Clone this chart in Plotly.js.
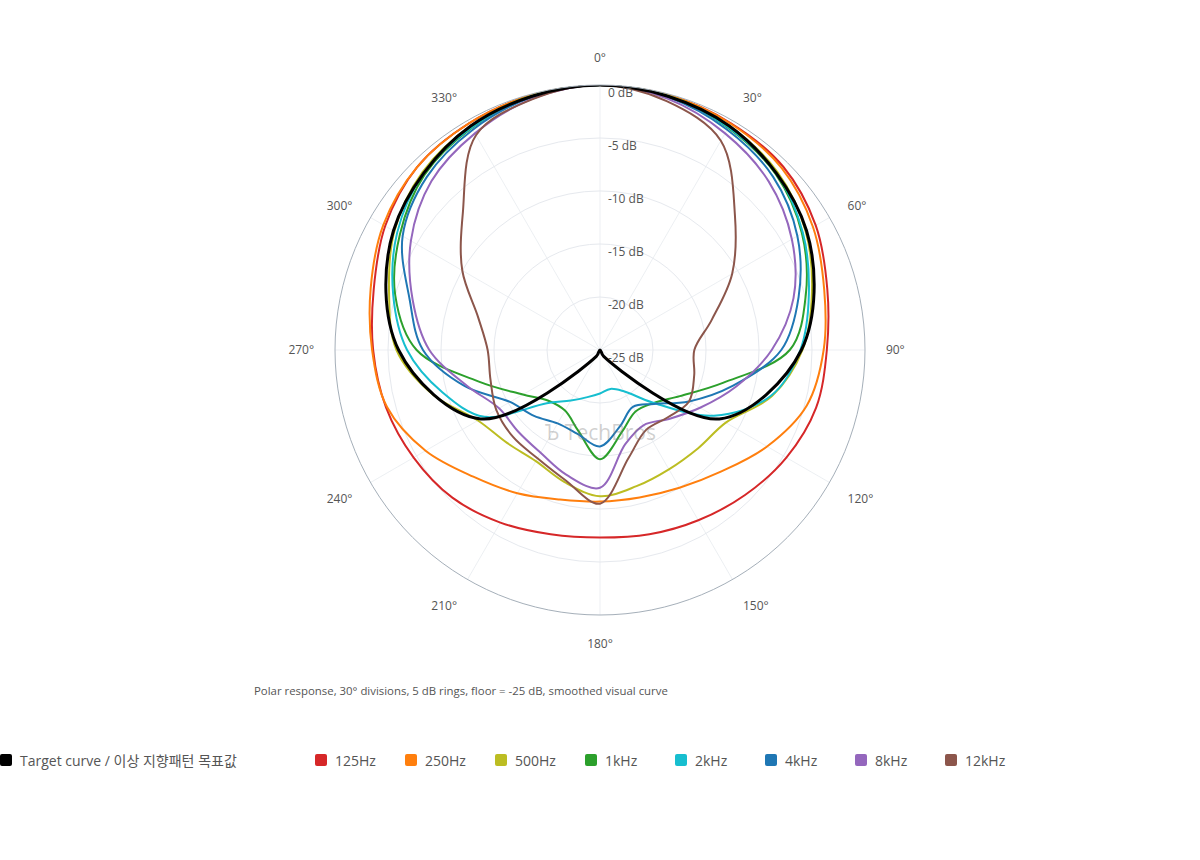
<!DOCTYPE html>
<html>
<head>
<meta charset="utf-8">
<script src="https://cdn.plot.ly/plotly-3.0.1.min.js"></script>
<style>
    body { margin: 0; background: #fff; font-family: "Open Sans", "Noto Sans CJK KR", sans-serif; }
    #chart { width: 1200px; height: 860px; }
    #legend { position: absolute; left: 0; top: 750px; display: flex; align-items: center; font-size: 14px; color: #555; }
    .item { display: flex; align-items: center; width: 90px; white-space: nowrap; }
    .item:first-child { width: 315px; }
    .swatch { width: 12px; height: 12px; border-radius: 2px; margin-right: 8px; flex: none; }
</style>
</head>
<body>
<div id="chart"></div>
<div id="legend"></div>
<script>
// angles in degrees, clockwise from the front (0°)
const angles = [0, 15, 30, 45, 60, 75, 90, 105, 120, 135, 150, 165,
                180, 195, 210, 225, 240, 255, 270, 285, 300, 315, 330, 345];
const targetAngles = [0, 30, 60, 90, 120, 150, 180, 210, 240, 270, 300, 330];

const target = [0, -0.6, -2.5, -6.0, -12.0, -24.3, -25, -24.3, -12.0, -6.0, -2.5, -0.6];

const hz125 = [0, -0.1, -0.3, -0.55, -1.5, -2.8, -3.6, -3.9, -4.7, -5.65, -6.45, -7.0,
               -7.3, -7.0, -6.2, -5.3, -4.7, -4.1, -3.6, -2.9, -1.6, -0.6, -0.3, -0.1];
const hz250 = [0, -0.1, -0.35, -0.75, -1.8, -3.1, -3.9, -4.8, -6.8, -8.8, -10.0, -10.6,
               -10.7, -10.4, -9.4, -8.1, -6.0, -4.2, -3.5, -2.6, -1.4, -0.6, -0.3, -0.1];
const hz500 = [0, -0.15, -0.6, -1.3, -2.6, -4.3, -5.9, -8.2, -11.3, -11.9, -12.0, -11.7,
               -11.2, -12.1, -12.9, -12.6, -11.7, -8.7, -5.8, -4.4, -2.6, -1.3, -0.6, -0.15];
const khz1 = [0, -0.2, -0.8, -1.55, -3.0, -4.9, -7.1, -13.0, -16.3, -17.9, -18.3, -17.0,
              -14.7, -17.1, -18.4, -18.2, -16.6, -13.3, -7.7, -5.0, -3.2, -1.6, -0.8, -0.2];
const khz2 = [0, -0.2, -0.75, -1.45, -2.9, -4.6, -6.1, -8.3, -12.6, -18.0, -20.5, -21.2,
              -20.9, -20.4, -19.5, -17.9, -12.4, -9.6, -6.8, -4.8, -2.9, -1.45, -0.75, -0.2];
const khz4 = [0, -0.3, -1.0, -1.9, -3.5, -5.6, -7.9, -12.0, -15.3, -17.8, -18.8, -17.6,
              -15.9, -16.8, -17.0, -16.2, -15.2, -11.8, -8.3, -6.4, -3.5, -1.9, -1.0, -0.3];
const khz8 = [0, -0.45, -1.4, -2.5, -4.1, -6.1, -8.8, -11.7, -14.1, -15.8, -16.8, -15.8,
              -12.0, -12.8, -13.8, -14.1, -14.0, -12.0, -8.9, -6.7, -4.4, -2.5, -1.4, -0.45];
const khz12 = [0, -0.7, -2.2, -7.0, -10.6, -14.1, -16.1, -15.8, -15.3, -16.0, -16.3, -14.5,
               -10.5, -12.3, -13.2, -13.4, -13.7, -14.3, -14.4, -13.1, -10.0, -6.7, -1.6, -0.5];

const seriesNames = ["125Hz", "250Hz", "500Hz", "1kHz", "2kHz", "4kHz", "8kHz", "12kHz"];
const seriesValues = [hz125, hz250, hz500, khz1, khz2, khz4, khz8, khz12];
const seriesColors = ["#d62728", "#ff7f0e", "#bcbd22", "#2ca02c", "#17becf", "#1f77b4", "#9467bd", "#8c564b"];
const targetName = "Target curve / 이상 지향패턴 목표값";

const radialTicks = [0, -5, -10, -15, -20, -25];

// close the loop: repeat the first value at 360°
const closeR = arr => arr.concat([arr[0]]);
const closeTheta = arr => arr.concat([360]);

const PolarChart = {
    traces: () => {
        let data = [];
        seriesValues.forEach((values, i) => {
            data.push({
                type: "scatterpolar",
                subplot: "polar2",
                mode: "lines",
                name: seriesNames[i],
                r: closeR(values),
                theta: closeTheta(angles),
                line: { color: seriesColors[i], width: 2, shape: "spline" },
                showlegend: false,
                hoverinfo: "skip"
            });
        });
        data.push({
            type: "scatterpolar",
            subplot: "polar2",
            mode: "lines",
            name: targetName,
            r: closeR(target),
            theta: closeTheta(targetAngles),
            line: { color: "#000000", width: 3, shape: "spline" },
            showlegend: false,
            hoverinfo: "skip"
        });
        return data;
    },
    layout: () => {
        return {
            width: 1200,
            height: 860,
            margin: { l: 0, r: 0, t: 85, b: 245 },
            paper_bgcolor: "#fff",
            font: { family: '"Open Sans", "Noto Sans CJK KR", sans-serif', color: "#555", size: 12 },
            showlegend: false,
            // base subplot only carries the stronger 0/90/180/270 cross
            polar: {
                bgcolor: "#fff",
                angularaxis: {
                    direction: "clockwise", rotation: 90, dtick: 90,
                    gridcolor: "#dce2e9", gridwidth: 1.5,
                    showline: false, showticklabels: false, ticks: ""
                },
                radialaxis: { range: [-25, 0], showgrid: false, showline: false, showticklabels: false, ticks: "" }
            },
            polar2: {
                bgcolor: "rgba(0,0,0,0)",
                angularaxis: {
                    direction: "clockwise", rotation: 90, dtick: 30,
                    gridcolor: "rgba(200,208,218,0.35)",
                    showline: true, linecolor: "#a5afb9", linewidth: 1,
                    ticks: "outside", ticklen: 18, tickcolor: "rgba(0,0,0,0)",
                    tickfont: { size: 12, color: "#555" }
                },
                radialaxis: {
                    range: [-25, 0], angle: 90, tickangle: 90,
                    tickvals: radialTicks,
                    ticktext: radialTicks.map(v => "<br>" + v + " dB"),
                    showline: false,
                    ticks: "outside", ticklen: 5, tickcolor: "rgba(0,0,0,0)",
                    gridcolor: "#e6e9ee",
                    tickfont: { size: 12, color: "#555" }
                }
            },
            annotations: [
                {
                    text: "Polar response, 30° divisions, 5 dB rings, floor = -25 dB, smoothed visual curve",
                    xref: "paper", yref: "paper", x: 0.21, y: -0.143,
                    xanchor: "left", yanchor: "middle", showarrow: false,
                    font: { size: 11.4, color: "#555" }
                },
                {
                    text: "Ъ TechBros",
                    xref: "paper", yref: "paper", x: 0.5, y: 0.345,
                    xanchor: "center", yanchor: "middle", showarrow: false,
                    font: { size: 21, color: "rgba(120,120,120,0.35)" }
                }
            ]
        };
    },
    legend: () => {
        let box = document.getElementById("legend");
        let names = [targetName].concat(seriesNames);
        let colors = ["#000000"].concat(seriesColors);
        names.forEach((name, i) => {
            let item = document.createElement("div");
            item.className = "item";
            let sw = document.createElement("span");
            sw.className = "swatch";
            sw.style.background = colors[i];
            let label = document.createElement("span");
            label.textContent = name;
            item.appendChild(sw);
            item.appendChild(label);
            box.appendChild(item);
        });
    }
};

Plotly.newPlot("chart", PolarChart.traces(), PolarChart.layout(), { displayModeBar: false, staticPlot: true });
PolarChart.legend();
</script>
</body>
</html>
